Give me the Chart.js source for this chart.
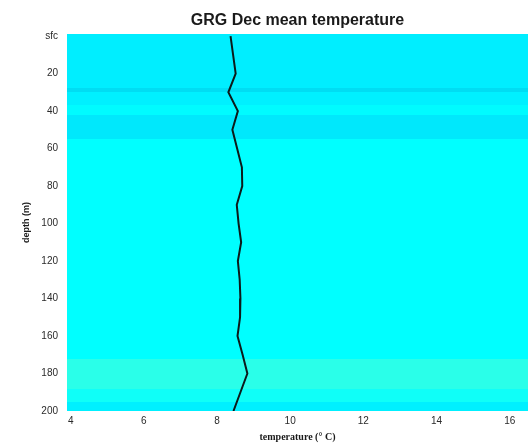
<!DOCTYPE html>
<html>
<head>
<meta charset="utf-8">
<script src="https://cdn.jsdelivr.net/npm/chart.js@4/dist/chart.umd.min.js"></script>
<style>
  html, body { margin: 0; padding: 0; background: #fff; }
  #wrap { width: 528px; height: 447px; position: relative; }
</style>
</head>
<body>
<div id="wrap"><canvas id="chart"></canvas></div>
<script>
// profile
const depths = [0, 10, 20, 30, 40, 50, 60, 70, 80, 90, 100, 110, 120, 130, 140, 150, 160, 170, 180, 190, 200];
const temps = [8.37, 8.44, 8.51, 8.31, 8.57, 8.42, 8.55, 8.68, 8.69, 8.54, 8.59, 8.66, 8.57, 8.62, 8.64, 8.63, 8.56, 8.70, 8.83, 8.64, 8.45];

const xTicks = [4, 6, 8, 10, 12, 14, 16];
const yTicks = [0, 20, 40, 60, 80, 100, 120, 140, 160, 180, 200];

// shaded depth bands behind the profile
const bandTop = [-1, 27.6, 29.8, 36.7, 42, 55, 172, 188, 195];
const bandBottom = [27.6, 29.8, 36.7, 42, 55, 172, 188, 195, 200];
const bandColor = ['#00eeff', '#00ddf3', '#00f0ff', '#00fbff', '#00e8fc', '#00ffff', '#2affe9', '#0ffff8', '#00f0ff'];

const tickColor = '#2a2a2a';

const bandPlugin = {
  id: 'bands',
  beforeDatasetsDraw(chart) {
    const { ctx, chartArea, scales } = chart;
    ctx.save();
    for (let i = 0; i < bandTop.length; i++) {
      const y1 = Math.round(scales.y.getPixelForValue(bandTop[i]));
      const y2 = Math.round(scales.y.getPixelForValue(bandBottom[i]));
      ctx.fillStyle = bandColor[i];
      ctx.fillRect(chartArea.left, y1, chartArea.right - chartArea.left, y2 - y1);
    }
    ctx.restore();
  },
};

new Chart(document.getElementById('chart'), {
  type: 'line',
  data: {
    datasets: [
      {
        data: depths.map((d, i) => ({ x: temps[i], y: d })),
        borderColor: '#0c1a1a',
        borderWidth: 2,
        pointRadius: 0,
        tension: 0,
        fill: false,
      },
    ],
  },
  options: {
    responsive: true,
    maintainAspectRatio: false,
    animation: false,
    layout: { padding: 0 },
    plugins: {
      legend: { display: false },
      tooltip: { enabled: false },
      title: {
        display: true,
        text: 'GRG Dec mean temperature',
        fullSize: false,
        color: '#1a1a1a',
        font: { family: 'Liberation Sans, Arial, sans-serif', size: 16, weight: 'bold' },
        padding: { top: 11, bottom: 4 },
      },
    },
    scales: {
      x: {
        type: 'linear',
        min: 3.9,
        max: 16.5,
        grid: { display: false, drawTicks: false },
        border: { display: false },
        afterBuildTicks: (s) => { s.ticks = xTicks.map((v) => ({ value: v })); },
        afterFit: (s) => { s.height = 36; },
        ticks: {
          color: tickColor,
          padding: 4,
          font: { family: 'Liberation Sans, Arial, sans-serif', size: 10 },
        },
        title: {
          display: true,
          text: 'temperature (° C)',
          color: '#1a1a1a',
          font: { family: 'Liberation Serif, serif', size: 10, weight: 'bold' },
          padding: { top: 0, bottom: 4 },
        },
      },
      y: {
        type: 'linear',
        reverse: true,
        min: -1,
        max: 200,
        grid: { display: false, drawTicks: false },
        border: { display: false },
        afterBuildTicks: (s) => { s.ticks = yTicks.map((v) => ({ value: v })); },
        afterFit: (s) => { s.width = 67; },
        ticks: {
          color: tickColor,
          padding: 9,
          font: { family: 'Liberation Sans, Arial, sans-serif', size: 10 },
          callback: (v) => (v === 0 ? 'sfc' : v),
        },
        title: {
          display: true,
          text: 'depth (m)',
          color: '#1a1a1a',
          font: { family: 'Liberation Sans, Arial, sans-serif', size: 9, weight: 'bold' },
          padding: { top: 21, bottom: 0 },
        },
      },
    },
  },
  plugins: [bandPlugin],
});
</script>
</body>
</html>
